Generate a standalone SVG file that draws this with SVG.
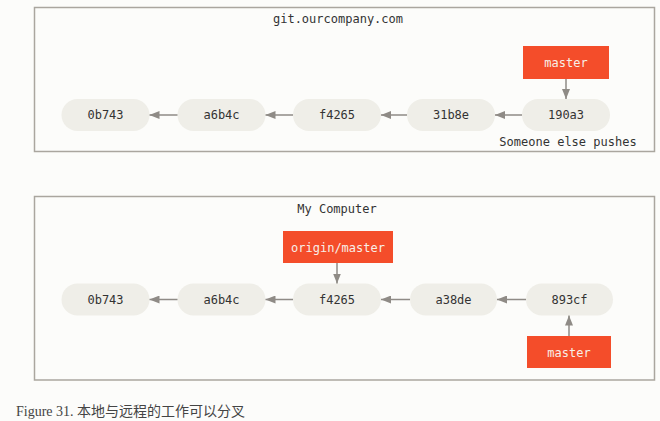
<svg xmlns="http://www.w3.org/2000/svg" width="660" height="421" viewBox="0 0 660 421">
<style>
.frame{fill:#fcfcfa;stroke:#aaa69f;stroke-width:1.5}
.commit{fill:#efeee8}
.ref{fill:#f44d2a}
.t{font-family:"DejaVu Sans Mono",monospace;font-size:12px;fill:#333;text-anchor:middle}
.rt{font-family:"DejaVu Sans Mono",monospace;font-size:12px;fill:#f7efe8;text-anchor:middle}
.edge{stroke:#8f8b86;stroke-width:1.5;fill:none;marker-end:url(#ah)}
</style>
<defs>
<marker id="ah" markerWidth="10" markerHeight="8" refX="10" refY="4" orient="auto" markerUnits="userSpaceOnUse">
<path d="M0,0 L10,4 L0,8 Z" fill="#8f8b86"/>
</marker>
</defs>
<rect width="660" height="421" fill="#fcfcfa"/>
<g id="remote">
<rect class="frame" x="34.5" y="7.5" width="620" height="144"/>
<text class="t" x="338" y="23">git.ourcompany.com</text>
<text class="t" x="568" y="146">Someone else pushes</text>
</g>
<g id="local">
<rect class="frame" x="34.5" y="196.5" width="620" height="183.5"/>
<text class="t" x="337" y="213">My Computer</text>
</g>
<g id="r-0b743"><rect class="commit" x="61.5" y="99" width="88" height="32" rx="16"/><text class="t" x="105.5" y="119">0b743</text></g>
<g id="r-a6b4c"><rect class="commit" x="177.5" y="99" width="88" height="32" rx="16"/><text class="t" x="221.5" y="119">a6b4c</text></g>
<g id="r-f4265"><rect class="commit" x="293" y="99" width="88" height="32" rx="16"/><text class="t" x="337" y="119">f4265</text></g>
<g id="r-31b8e"><rect class="commit" x="407" y="99" width="88" height="32" rx="16"/><text class="t" x="451" y="119">31b8e</text></g>
<g id="r-190a3"><rect class="commit" x="522" y="99" width="88" height="32" rx="16"/><text class="t" x="566" y="119">190a3</text></g>
<g id="r-master"><rect class="ref" x="523" y="46" width="86" height="33"/><text class="rt" x="566" y="67">master</text></g>
<g id="l-0b743"><rect class="commit" x="61.5" y="283.5" width="88" height="32" rx="16"/><text class="t" x="105.5" y="303.5">0b743</text></g>
<g id="l-a6b4c"><rect class="commit" x="177.5" y="283.5" width="88" height="32" rx="16"/><text class="t" x="221.5" y="303.5">a6b4c</text></g>
<g id="l-f4265"><rect class="commit" x="293" y="283.5" width="88" height="32" rx="16"/><text class="t" x="337" y="303.5">f4265</text></g>
<g id="l-a38de"><rect class="commit" x="410" y="283.5" width="87" height="32" rx="16"/><text class="t" x="453.5" y="303.5">a38de</text></g>
<g id="l-893cf"><rect class="commit" x="526" y="283.5" width="87" height="32" rx="16"/><text class="t" x="569.5" y="303.5">893cf</text></g>
<g id="l-origin-master"><rect class="ref" x="283" y="231" width="110" height="32"/><text class="rt" x="338" y="251.5">origin/master</text></g>
<g id="l-master"><rect class="ref" x="527" y="336" width="84" height="32"/><text class="rt" x="569" y="356.5">master</text></g>
<g id="connectors">
<line class="edge" x1="177.5" y1="115" x2="149.5" y2="115"/>
<line class="edge" x1="293" y1="115" x2="265.5" y2="115"/>
<line class="edge" x1="407" y1="115" x2="381" y2="115"/>
<line class="edge" x1="522" y1="115" x2="495" y2="115"/>
<line class="edge" x1="566" y1="79" x2="566" y2="99"/>
<line class="edge" x1="177.5" y1="299.5" x2="149.5" y2="299.5"/>
<line class="edge" x1="293" y1="299.5" x2="265.5" y2="299.5"/>
<line class="edge" x1="410" y1="299.5" x2="381" y2="299.5"/>
<line class="edge" x1="526" y1="299.5" x2="497" y2="299.5"/>
<line class="edge" x1="337" y1="263" x2="337" y2="283.5"/>
<line class="edge" x1="569" y1="336" x2="569" y2="315.5"/>
</g>
<text x="16" y="416" font-family="'Liberation Serif','Noto Sans CJK SC',serif" font-size="14" fill="#444">Figure 31. 本地与远程的工作可以分叉</text>
</svg>
